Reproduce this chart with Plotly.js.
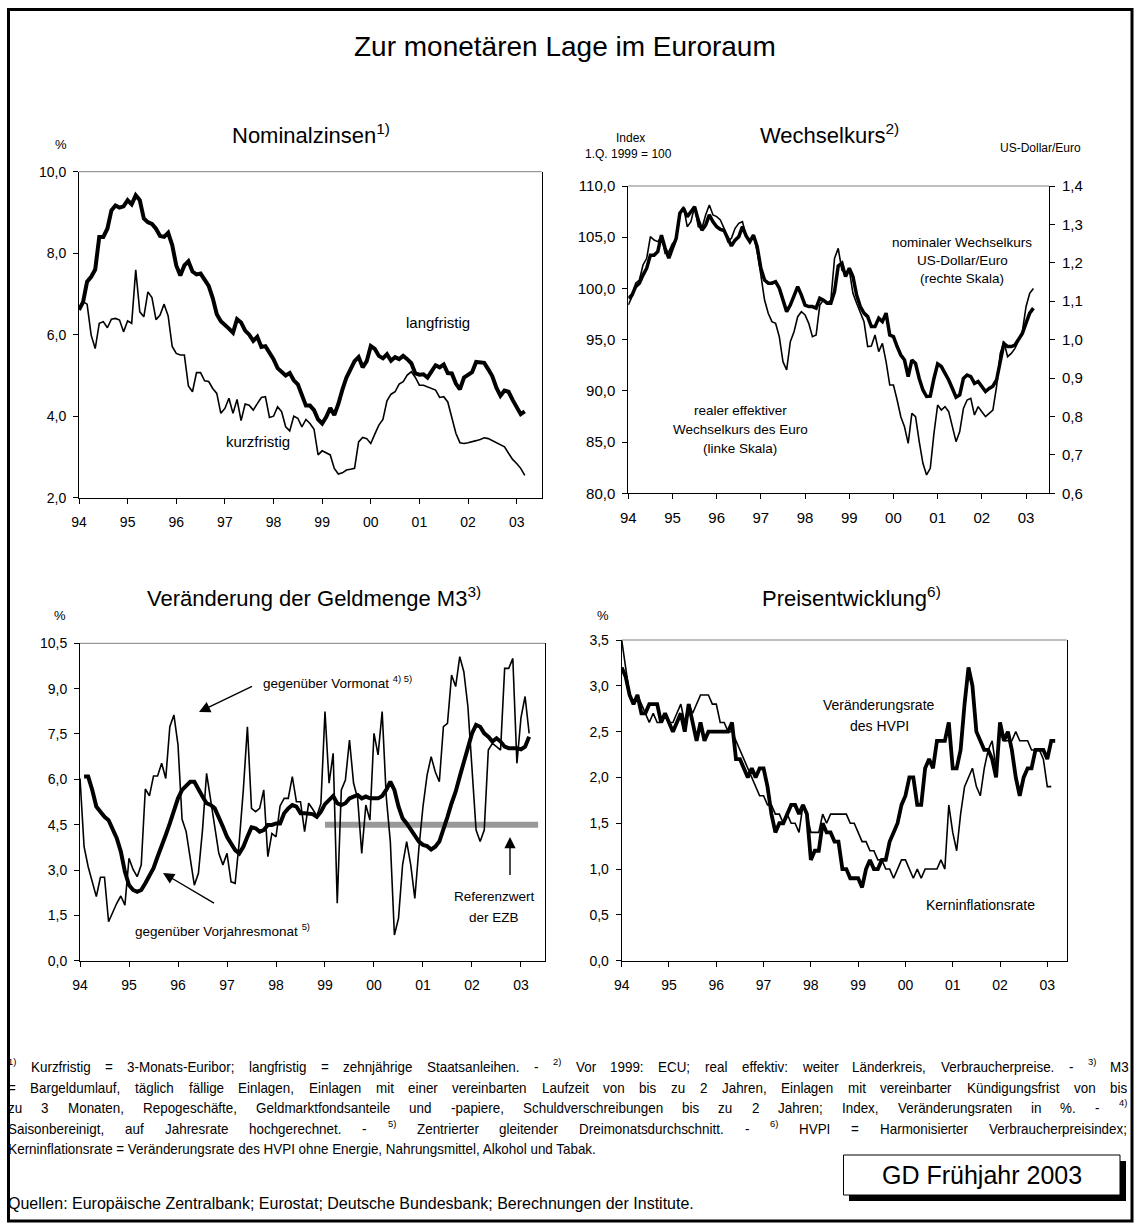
<!DOCTYPE html>
<html><head><meta charset="utf-8">
<script src="https://cdn.plot.ly/plotly-3.0.1.min.js"></script>
<style>html,body{margin:0;padding:0;background:#fff}#chart{width:1135px;height:1223px}</style>
</head><body><div id="chart"></div>
<script>
// ---------------- DATA ----------------
const yearTickVals = [1994,1995,1996,1997,1998,1999,2000,2001,2002,2003];
const yearTickText = ['94','95','96','97','98','99','00','01','02','03'];

// Nominalzinsen (monthly from Jan 1994)
const kurzfristig = [6.61,6.81,6.75,5.99,5.66,6.28,6.32,6.17,6.38,6.4,
 6.36,6.07,6.34,6.28,7.59,6.56,6.44,7.05,6.91,6.37,
 6.48,6.75,6.46,5.71,5.54,5.5,5.5,4.74,4.6,5.07,
 5.07,4.87,4.85,4.68,4.56,4.07,4.19,4.44,4.07,4.41,
 3.89,4.3,4.27,4.15,4.31,4.46,4.48,3.97,4.0,4.23,
 4.11,3.74,3.64,4.0,3.95,3.74,3.92,3.82,3.68,3.05,
 3.15,3.09,3.05,2.72,2.58,2.61,2.68,2.7,2.72,3.37,
 3.48,3.45,3.33,3.56,3.78,3.92,4.38,4.54,4.6,4.79,
 4.85,5.01,5.09,4.95,4.76,4.76,4.72,4.68,4.64,4.46,
 4.48,4.35,3.95,3.58,3.35,3.33,3.35,3.37,3.4,3.43,
 3.47,3.45,3.4,3.35,3.31,3.25,3.09,2.94,2.84,2.72,2.55];
const langfristig = [6.61,6.8,7.3,7.42,7.6,8.4,8.4,8.6,9.05,9.17,
 9.12,9.15,9.3,9.2,9.42,9.3,8.85,8.76,8.72,8.6,
 8.42,8.4,8.5,8.2,7.7,7.45,7.7,7.8,7.55,7.48,
 7.5,7.33,7.2,6.9,6.5,6.33,6.25,6.15,6.05,6.38,
 6.3,6.1,6.0,5.85,5.95,5.7,5.72,5.55,5.4,5.18,
 5.08,5.0,5.06,4.88,4.78,4.5,4.26,4.26,4.15,
 3.92,3.82,3.98,4.2,4.03,4.3,4.65,4.95,5.15,5.35,
 5.45,5.2,5.35,5.72,5.65,5.48,5.42,5.52,5.36,5.45,
 5.4,5.48,5.4,5.3,5.05,5.02,5.03,4.95,5.1,5.25,
 5.2,5.27,5.06,5.05,4.8,4.66,4.95,5.03,5.08,5.33,
 5.32,5.31,5.15,4.98,4.7,4.5,4.63,4.6,4.4,4.2,
 4.05,4.12];

// Wechselkurs
const realEffektiv = [98.38,99.2,100.5,100.82,102.29,102.94,105.05,104.73,104.57,105.05,
 103.43,103.59,104.4,104.73,107.17,107.98,106.03,106.52,107.98,106.03,
 105.87,107.17,108.15,107.17,107.01,106.68,105.87,104.57,104.89,105.87,
 106.36,106.52,105.05,104.57,105.22,103.59,101.31,98.87,97.57,96.76,
 96.59,95.29,92.85,92.04,94.8,95.78,97.24,97.73,97.41,96.59,
 95.29,95.45,98.38,98.87,98.55,98.87,102.94,103.91,101.8,101.47,
 101.8,99.52,98.55,97.73,96.76,94.32,94.38,95.45,93.83,94.64,
 92.85,90.57,90.57,89.11,87.48,86.5,84.88,87.81,87.48,85.04,
 82.93,81.79,82.44,85.85,88.62,88.13,88.46,87.97,86.5,85.04,
 86.02,88.29,89.11,89.27,87.64,88.46,87.97,87.48,87.81,88.13,
 90.41,93.66,94.8,93.34,93.66,94.15,94.97,95.78,98.22,99.52,100.0];
const usdEuro = [1.108,1.116,1.138,1.147,1.168,1.186,1.220,1.220,1.229,1.272,
 1.238,1.212,1.238,1.264,1.329,1.342,1.320,1.333,1.346,1.311,
 1.285,1.298,1.325,1.307,1.294,1.287,1.284,1.264,1.244,1.259,
 1.268,1.294,1.270,1.255,1.272,1.242,1.186,1.155,1.147,1.147,
 1.151,1.134,1.103,1.073,1.090,1.112,1.138,1.116,1.090,1.086,
 1.086,1.082,1.108,1.103,1.095,1.095,1.125,1.192,1.199,1.164,
 1.186,1.164,1.116,1.086,1.069,1.060,1.034,1.034,1.056,1.047,
 1.069,1.012,1.008,0.982,0.960,0.947,0.904,0.947,0.938,0.899,
 0.869,0.852,0.853,0.899,0.937,0.930,0.913,0.895,0.873,0.850,
 0.856,0.899,0.908,0.904,0.886,0.891,0.878,0.865,0.873,0.879,
 0.895,0.947,0.990,0.982,0.982,0.986,1.003,1.016,1.043,1.069,1.082];

// Geldmenge M3
const m3Vormonat = [6.03,3.77,3.11,2.61,2.12,2.76,2.76,1.29,1.62,1.9,
 2.14,1.84,3.39,3.02,2.78,3.17,5.68,5.45,6.11,6.11,
 6.53,6.03,7.74,8.13,7.14,4.68,4.27,3.39,2.5,2.89,
 4.32,6.2,5.32,4.32,3.55,3.17,3.55,2.61,2.56,3.94,
 5.65,7.74,5.04,4.93,5.04,5.65,3.44,4.21,4.1,5.12,
 5.37,5.37,6.09,5.26,5.26,4.27,5.21,5.01,4.79,5.2,
 8.24,5.87,6.86,1.9,5.65,5.98,7.3,5.87,5.37,3.55,
 5.15,4.65,7.52,6.81,8.24,5.43,3.94,0.85,1.4,3.17,
 3.94,3.17,2.06,3.72,5.1,6.14,6.75,6.25,5.92,7.74,
 7.85,9.45,9.07,10.06,9.56,8.4,6.53,4.32,3.94,4.32,
 6.97,7.19,7.08,6.97,9.67,9.67,10.0,6.53,8.04,8.74,7.52];
const m3Vorjahr = [6.09,6.09,5.65,5.1,4.93,4.76,4.65,4.38,4.05,3.61,
 2.94,2.5,2.34,2.28,2.34,2.56,2.78,3.06,3.44,3.77,
 4.16,4.54,4.99,5.37,5.65,5.81,5.92,5.92,5.65,5.43,
 5.21,5.15,5.04,4.76,4.43,4.1,3.88,3.66,3.55,3.77,
 4.1,4.41,4.38,4.27,4.32,4.49,4.49,4.54,4.54,4.88,
 5.04,5.15,5.1,4.88,4.88,4.85,4.85,4.76,4.93,5.18,
 5.32,5.45,5.21,5.15,5.21,5.37,5.43,5.48,5.37,5.43,
 5.37,5.37,5.37,5.45,5.65,5.92,5.65,5.1,4.71,4.54,
 4.32,4.1,3.94,3.83,3.79,3.68,3.77,3.94,4.32,4.76,
 5.21,5.59,6.09,6.58,7.08,7.52,7.8,7.74,7.52,7.41,
 7.25,7.36,7.25,7.08,7.03,7.03,7.03,6.99,7.08,7.41];
const referenzwert = 4.5;
const referenzStart = 1999.0;
const referenzEnde = 2003.35;

// Preisentwicklung
const hvpi = [3.2,3.1,2.9,2.8,2.9,2.7,2.7,2.8,2.8,2.8,
 2.6,2.7,2.6,2.5,2.6,2.7,2.5,2.8,2.6,2.4,
 2.6,2.4,2.5,2.5,2.5,2.5,2.5,2.5,2.6,2.2,
 2.2,2.1,2.0,2.1,2.0,2.1,2.1,1.9,1.6,1.4,
 1.5,1.5,1.6,1.7,1.7,1.6,1.7,1.6,1.1,1.2,
 1.2,1.5,1.4,1.4,1.3,1.3,1.0,1.0,0.9,0.9,
 0.9,0.8,1.0,1.1,1.0,1.0,1.1,1.1,1.3,1.4,
 1.5,1.7,1.8,2.0,2.0,1.7,1.7,2.1,2.2,2.1,
 2.4,2.4,2.4,2.6,2.1,2.1,2.3,2.8,3.2,3.0,
 2.5,2.4,2.3,2.3,2.2,2.0,2.6,2.4,2.5,2.3,
 2.0,1.8,2.0,2.1,2.1,2.3,2.3,2.3,2.2,2.4,2.4];
const kerninflation = [3.5,3.2,2.9,2.8,2.9,2.8,2.7,2.6,2.7,2.6,
 2.6,2.7,2.6,2.6,2.7,2.8,2.6,2.8,2.7,2.8,
 2.9,2.9,2.9,2.8,2.8,2.6,2.6,2.5,2.5,2.4,
 2.3,2.2,2.1,2.0,1.9,1.8,1.8,1.7,1.7,1.6,
 1.6,1.5,1.6,1.5,1.5,1.4,1.7,1.6,1.4,1.4,
 1.4,1.6,1.5,1.6,1.6,1.6,1.6,1.6,1.5,1.5,
 1.4,1.3,1.3,1.2,1.2,1.1,1.1,1.0,1.0,0.9,
 1.0,1.1,1.1,1.0,0.9,1.0,0.9,1.0,1.0,1.0,
 1.0,1.1,1.0,1.7,1.4,1.2,1.6,1.9,2.0,2.1,
 1.9,1.8,2.1,2.3,2.4,2.1,2.5,2.4,2.4,2.4,
 2.5,2.4,2.4,2.4,2.3,2.3,2.3,2.2,1.9,1.9];

const ticksZins = [2,4,6,8,10];
const ticksIndex = [80,85,90,95,100,105,110];
const ticksUSD = [0.6,0.7,0.8,0.9,1.0,1.1,1.2,1.3,1.4];
const ticksM3 = [0,1.5,3,4.5,6,7.5,9,10.5];
const ticksPreis = [0,0.5,1,1.5,2,2.5,3,3.5];

// ---------------- LAYOUT HELPERS ----------------
const W = 1135, H = 1223;
const FONT = '"Liberation Sans", Arial, sans-serif';
const px = v => v / W;
const py = v => 1 - v / H;
function months(startIdx, n) { const a = []; for (let i = 0; i < n; i++) a.push(1994 + (startIdx + i) / 12); return a; }

function xAxis(l, r, xmax, anchor, size) {
  return {domain: [px(l), px(r)], range: [1994, xmax], anchor: anchor,
    tickmode: 'array', tickvals: yearTickVals, ticktext: yearTickText,
    ticks: 'outside', ticklen: 5, tickwidth: 1, tickcolor: '#000',
    showline: true, linecolor: '#000', linewidth: 1, showgrid: false, zeroline: false,
    ticklabelstandoff: 6, tickfont: {family: FONT, size: size || 14, color: '#000'}, fixedrange: true};
}
function yAxis(top, bottom, range, vals, anchor, size, mirror) {
  return {domain: [py(bottom), py(top)], range: range, anchor: anchor,
    tickmode: 'array', tickvals: vals, tickformat: '.1f',
    ticks: 'outside', ticklen: 5, tickwidth: 1, tickcolor: '#000',
    showline: true, linecolor: '#000', linewidth: 1, mirror: mirror, showgrid: false, zeroline: false,
    ticklabelstandoff: 4, tickfont: {family: FONT, size: size, color: '#000'}, fixedrange: true};
}
function line(x, y, xa, ya, w) {
  return {x: x, y: y, xaxis: xa, yaxis: ya, type: 'scatter', mode: 'lines',
    line: {color: '#000', width: w}, hoverinfo: 'skip', showlegend: false};
}

const traces = [
  line(months(0, kurzfristig.length), kurzfristig, 'x', 'y', 1.6),
  line(months(0, langfristig.length), langfristig, 'x', 'y', 4),
  line(months(0, realEffektiv.length), realEffektiv, 'x2', 'y2', 1.6),
  line(months(0, usdEuro.length), usdEuro, 'x2', 'y3', 3.5),
  {x: [referenzStart, referenzEnde], y: [referenzwert, referenzwert], xaxis: 'x3', yaxis: 'y4',
   type: 'scatter', mode: 'lines', line: {color: '#999999', width: 6}, hoverinfo: 'skip', showlegend: false},
  line(months(0, m3Vormonat.length), m3Vormonat, 'x3', 'y4', 1.6),
  line(months(1, m3Vorjahr.length), m3Vorjahr, 'x3', 'y4', 4),
  line(months(0, kerninflation.length), kerninflation, 'x4', 'y5', 1.6),
  line(months(0, hvpi.length), hvpi, 'x4', 'y5', 3.8)
];

function ann(text, x, y, size, xanchor, extra) {
  return Object.assign({text: text, x: px(x), y: py(y), xref: 'paper', yref: 'paper',
    xanchor: xanchor || 'center', yanchor: 'middle', showarrow: false, borderpad: 0, borderwidth: 0,
    font: {family: FONT, size: size, color: '#000'}}, extra || {});
}
function arrow(hx, hy, tx, ty) {
  return {text: ' ', x: px(hx), y: py(hy), xref: 'paper', yref: 'paper', showarrow: true,
    ax: tx - hx, ay: ty - hy, arrowhead: 2, arrowsize: 1.6, arrowwidth: 1.4, arrowcolor: '#000', standoff: 0,
    font: {family: FONT, size: 10, color: '#000'}};
}

const annotations = [
  ann('Zur monetären Lage im Euroraum', 565, 47, 28),
  ann('Nominalzinsen<sup>1)</sup>', 232, 134, 22, 'left'),
  ann('Wechselkurs<sup>2)</sup>', 760, 134, 22, 'left'),
  ann('Veränderung der Geldmenge M3<sup>3)</sup>', 147, 597, 22, 'left'),
  ann('Preisentwicklung<sup>6)</sup>', 762, 597, 22, 'left'),
  ann('%', 61, 144, 13),
  ann('%', 60, 615, 13),
  ann('%', 603, 615, 13),
  ann('Index', 630, 138, 12),
  ann('1.Q. 1999 = 100', 628, 154, 12),
  ann('US-Dollar/Euro', 1040, 148, 12),
  ann('langfristig', 438, 322, 15),
  ann('kurzfristig', 258, 442, 15),
  ann('nominaler Wechselkurs', 962, 242, 13.5),
  ann('US-Dollar/Euro', 962, 260, 13.5),
  ann('(rechte Skala)', 962, 278, 13.5),
  ann('realer effektiver', 740, 410, 13.5),
  ann('Wechselkurs des Euro', 740, 429, 13.5),
  ann('(linke Skala)', 740, 448, 13.5),
  ann('gegenüber Vormonat <sup>4) 5)</sup>', 263, 682, 13.5, 'left'),
  ann('gegenüber Vorjahresmonat <sup>5)</sup>', 135, 930, 13.5, 'left'),
  ann('Referenzwert', 494, 897, 13.5),
  ann('der EZB', 494, 917, 13.5),
  ann('Veränderungsrate', 879, 705, 14),
  ann('des HVPI', 879, 726, 14),
  ann('Kerninflationsrate', 980, 905, 14),
  ann('GD Frühjahr 2003', 982, 1175, 25),
  arrow(199, 712, 255, 685),
  arrow(163, 873, 217, 905),
  arrow(510, 837, 510, 882)
];

// ---------------- FOOTNOTES (condensed, justified) ----------------
const footLines = [
  {t: '^1) Kurzfristig = 3-Monats-Euribor; langfristig = zehnjährige Staatsanleihen. - ^2) Vor 1999: ECU; real effektiv: weiter Länderkreis, Verbraucherpreise. - ^3) M3', y: 1067, end: 1129},
  {t: '= Bargeldumlauf, täglich fällige Einlagen, Einlagen mit einer vereinbarten Laufzeit von bis zu 2 Jahren, Einlagen mit vereinbarter Kündigungsfrist von bis', y: 1088, end: 1127},
  {t: 'zu 3 Monaten, Repogeschäfte, Geldmarktfondsanteile und -papiere, Schuldverschreibungen bis zu 2 Jahren; Index, Veränderungsraten in %. - ^4)', y: 1108, end: 1127},
  {t: 'Saisonbereinigt, auf Jahresrate hochgerechnet. - ^5) Zentrierter gleitender Dreimonatsdurchschnitt. - ^6) HVPI = Harmonisierter Verbraucherpreisindex;', y: 1129, end: 1127},
  {t: 'Kerninflationsrate = Veränderungsrate des HVPI ohne Energie, Nahrungsmittel, Alkohol und Tabak.', y: 1149, end: null}
];
const quellenText = 'Quellen: Europäische Zentralbank; Eurostat; Deutsche Bundesbank; Berechnungen der Institute.';

const ctx = document.createElement('canvas').getContext('2d');
function measure(t, s) { ctx.font = s + 'px "Liberation Sans"'; return ctx.measureText(t).width; }

const fs = 14;                                   // glyph size of the footnotes
const squeeze = Math.min(1, 589 / measure(footLines[4].t, fs)); // horizontal condensing
const supS = fs * 0.7;
const startX = 8;
const footIdx = [];
function pushFoot(a) { footIdx.push(annotations.length); annotations.push(a); }
footLines.forEach(L => {
  if (L.end === null) { pushFoot(ann(L.t, startX, L.y, fs, 'left')); return; }
  const toks = L.t.split(' ');
  const widths = toks.map(tk => squeeze * (tk[0] === '^' ? measure(tk.slice(1), supS) : measure(tk, fs)));
  const sp = squeeze * measure(' ', fs);
  const total = widths.reduce((a, b) => a + b, 0);
  const gap = Math.max((L.end - startX - total) / (toks.length - 1), sp * 0.6);
  let x = startX;
  toks.forEach((tk, i) => {
    if (tk[0] === '^') pushFoot(ann(tk.slice(1), x, L.y, supS, 'left', {yshift: fs * 0.4}));
    else pushFoot(ann(tk, x, L.y, fs, 'left'));
    x += widths[i] + gap;
  });
});
let qs = 13 * 702 / measure(quellenText, 13);
qs = Math.max(12, Math.min(16, qs));
annotations.push(ann(quellenText, startX, 1203, qs, 'left'));

const shapes = [
  {type: 'line', xref: 'x domain', yref: 'y domain', x0: 0, x1: 1, y0: 1, y1: 1, line: {color: '#808080', width: 1}},
  {type: 'line', xref: 'x2 domain', yref: 'y2 domain', x0: 0, x1: 1, y0: 1, y1: 1, line: {color: '#808080', width: 1}},
  {type: 'line', xref: 'x3 domain', yref: 'y4 domain', x0: 0, x1: 1, y0: 1, y1: 1, line: {color: '#808080', width: 1}},
  {type: 'line', xref: 'x4 domain', yref: 'y5 domain', x0: 0, x1: 1, y0: 1, y1: 1, line: {color: '#808080', width: 1}},
  {type: 'rect', xref: 'paper', yref: 'paper', x0: px(849), x1: px(1126), y0: py(1161), y1: py(1201), fillcolor: '#000', line: {width: 0}},
  {type: 'rect', xref: 'paper', yref: 'paper', x0: px(843.5), x1: px(1120), y0: py(1155), y1: py(1195), fillcolor: '#fff', line: {color: '#000', width: 1}},
  {type: 'rect', xref: 'paper', yref: 'paper', x0: px(8.5), x1: px(1132), y0: py(9.5), y1: py(1221), fillcolor: 'rgba(0,0,0,0)', line: {color: '#000', width: 3}}
];

const layout = {
  width: W, height: H, margin: {l: 0, r: 0, t: 0, b: 0},
  paper_bgcolor: '#fff', plot_bgcolor: '#fff', separators: ',.',
  font: {family: FONT, color: '#000'},
  showlegend: false,
  xaxis: xAxis(79, 541.7, 2003.515, 'y'),
  yaxis: yAxis(171.7, 497.7, [2, 10], ticksZins, 'x', 14, true),
  xaxis2: xAxis(628.3, 1049, 2003.52, 'y2', 15),
  yaxis2: yAxis(186, 493.3, [80, 110], ticksIndex, 'x2', 15, false),
  yaxis3: Object.assign(yAxis(186, 493.3, [0.6, 1.4], ticksUSD, 'x2', 15, false), {overlaying: 'y2', side: 'right'}),
  xaxis3: xAxis(80, 545, 2003.49, 'y4'),
  yaxis4: yAxis(643.3, 960.7, [0, 10.5], ticksM3, 'x3', 14, true),
  xaxis4: xAxis(621.7, 1066.7, 2003.41, 'y5'),
  yaxis5: yAxis(640, 960.7, [0, 3.5], ticksPreis, 'x4', 14, true),
  annotations: annotations,
  shapes: shapes
};
Plotly.newPlot('chart', traces, layout, {staticPlot: true, displayModeBar: false}).then(gd => {
  // condense the footnote glyphs horizontally, anchored at each word's left edge
  footIdx.forEach(k => {
    const g = gd.querySelector('g.annotation[data-index="' + k + '"]');
    if (!g) return;
    g.querySelectorAll('text').forEach(t => {
      t.style.transformBox = 'fill-box';
      t.style.transformOrigin = '0% 50%';
      t.style.transform = 'scaleX(' + squeeze + ')';
    });
  });
});
</script>
</body></html>
